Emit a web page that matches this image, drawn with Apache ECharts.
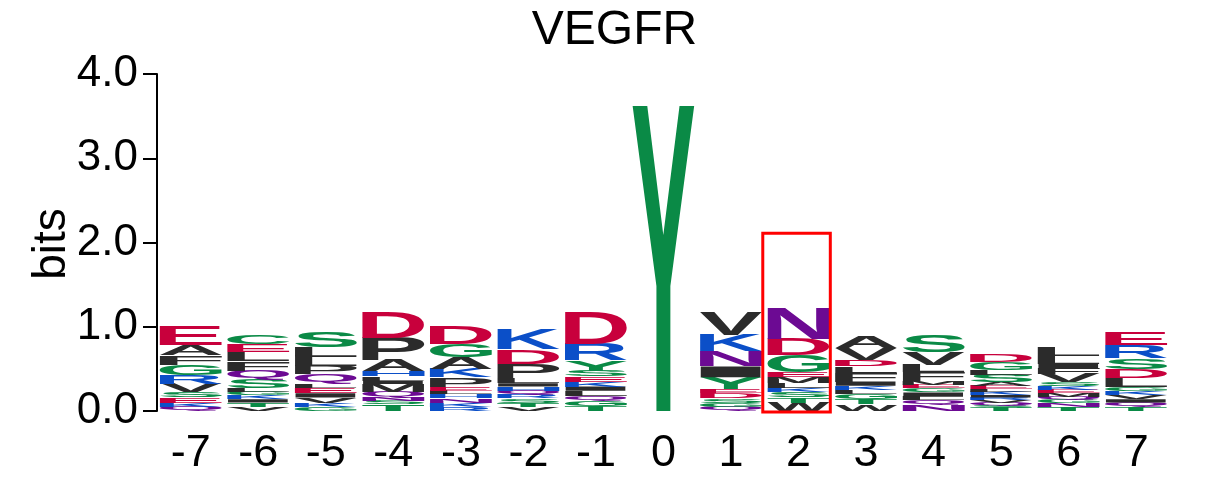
<!DOCTYPE html>
<html><head><meta charset="utf-8">
<script src="https://cdn.jsdelivr.net/npm/echarts@6/dist/echarts.min.js"></script>
<style>html,body{margin:0;padding:0;background:#fff}#c{width:1229px;height:496px}</style>
</head><body><div id="c"></div>
<script>
// ---- data (letter stacks listed top -> bottom, heights in bits) ----
const positions = ['-7','-6','-5','-4','-3','-2','-1','0','1','2','3','4','5','6','7'];
const yTicks = [0, 1, 2, 3, 4];
const col_m7 = [['E',0.23],['A',0.12],['F',0.11],['G',0.12],['R',0.11],['V',0.10],['S',0.06],['E',0.06],['K',0.05],['Q',0.05]];
const col_m6 = [['C',0.11],['E',0.09],['L',0.11],['F',0.11],['Q',0.11],['S',0.10],['L',0.04],['G',0.04],['K',0.05],['I',0.04],['T',0.05],['V',0.05]];
const col_m5 = [['S',0.19],['L',0.12],['L',0.10],['P',0.10],['Q',0.12],['L',0.05],['E',0.06],['I',0.05],['V',0.06],['K',0.05],['G',0.05]];
const col_m4 = [['D',0.30],['P',0.27],['A',0.13],['H',0.06],['L',0.05],['I',0.04],['M',0.09],['Q',0.07],['N',0.04],['S',0.04],['T',0.08]];
const col_m3 = [['D',0.21],['G',0.16],['A',0.14],['K',0.10],['P',0.11],['E',0.05],['L',0.04],['H',0.05],['N',0.05],['K',0.05],['R',0.05]];
const col_m2 = [['K',0.24],['D',0.17],['P',0.17],['L',0.06],['I',0.04],['H',0.05],['Q',0.05],['R',0.04],['S',0.05],['T',0.05],['V',0.05]];
const col_m1 = [['D',0.38],['R',0.19],['Y',0.12],['S',0.07],['E',0.06],['K',0.06],['I',0.05],['L',0.06],['Q',0.06],['G',0.06],['T',0.06]];
const col_0  = [['Y',3.63]];
const col_p1 = [['V',0.27],['K',0.19],['N',0.18],['I',0.13],['Y',0.14],['E',0.05],['D',0.06],['S',0.05],['G',0.05],['Q',0.05]];
const col_p2 = [['N',0.36],['D',0.19],['G',0.20],['E',0.06],['M',0.07],['L',0.06],['K',0.05],['S',0.06],['T',0.06],['W',0.10]];
const col_p3 = [['A',0.13],['V',0.14],['D',0.08],['L',0.08],['F',0.10],['I',0.05],['K',0.05],['L',0.05],['G',0.06],['T',0.06],['W',0.08]];
const col_p4 = [['S',0.20],['V',0.15],['L',0.09],['F',0.10],['M',0.05],['E',0.04],['G',0.05],['I',0.05],['L',0.04],['Q',0.06],['N',0.07]];
const col_p5 = [['D',0.09],['G',0.09],['L',0.06],['S',0.09],['A',0.04],['E',0.04],['L',0.03],['K',0.04],['I',0.03],['R',0.03],['V',0.03],['Q',0.03],['S',0.03],['T',0.04]];
const col_p6 = [['L',0.11],['L',0.09],['I',0.05],['F',0.07],['V',0.10],['S',0.04],['K',0.05],['E',0.04],['M',0.04],['Q',0.04],['G',0.04],['N',0.04],['T',0.05]];
const col_p7 = [['E',0.15],['R',0.15],['S',0.13],['D',0.11],['L',0.10],['G',0.05],['K',0.05],['V',0.05],['I',0.04],['Q',0.05],['T',0.05]];
const stacks = [col_m7,col_m6,col_m5,col_m4,col_m3,col_m2,col_m1,col_0,col_p1,col_p2,col_p3,col_p4,col_p5,col_p6,col_p7];
const highlightPosition = '2';
const highlightTopBits = 2.11;

// ---- styles ----
const groupColors = {acidic:'#C8003C', basic:'#0B4FC8', amide:'#6C0A93', polar:'#0A8A46', hydrophobic:'#2B2B2B'};
const groupOf = L => 'DE'.includes(L) ? 'acidic' : 'KRH'.includes(L) ? 'basic' : 'NQ'.includes(L) ? 'amide' : 'GSTYC'.includes(L) ? 'polar' : 'hydrophobic';
const ALPHABET = 'ACDEFGHIKLMNPQRSTVWY';
const LETTER_FONT = 'bold 200px "Liberation Sans"';
const LETTER_HALF = 0.46;

// glyph ink metrics (canvas textBaseline 'middle', as zrender draws)
const ctx = document.createElement('canvas').getContext('2d');
ctx.font = LETTER_FONT; ctx.textBaseline = 'middle'; ctx.textAlign = 'left';
const metrics = {};
for (const L of ALPHABET) {
  const m = ctx.measureText(L);
  metrics[L] = {l: m.actualBoundingBoxLeft, r: m.actualBoundingBoxRight, a: m.actualBoundingBoxAscent, d: m.actualBoundingBoxDescent};
}

// build stacked letter records: [posIndex, y0, y1, letterIndex]
const letterData = [];
stacks.forEach((stack, i) => {
  let y = 0;
  stack.slice().reverse().forEach(([L, h]) => {
    letterData.push([i, y, y + h, ALPHABET.indexOf(L)]);
    y += h;
  });
});

const chart = echarts.init(document.getElementById('c'), null, {renderer: 'canvas'});
chart.setOption({
  animation: false,
  backgroundColor: '#fff',
  title: {text: 'VEGFR', left: 'center', top: 2,
    textStyle: {fontFamily: 'Liberation Sans', fontSize: 48, fontWeight: 'normal', color: '#000'}},
  graphic: [{type: 'text', x: 52, y: 244, rotation: Math.PI / 2,
    style: {text: 'bits', font: '46px "Liberation Sans"', fill: '#000', align: 'center', verticalAlign: 'middle'}}],
  grid: {left: 157, right: 59, top: 74, bottom: 85},
  xAxis: {type: 'category', data: positions, boundaryGap: true,
    axisLine: {show: false}, axisTick: {show: false}, splitLine: {show: false},
    axisLabel: {fontFamily: 'Liberation Sans', fontSize: 45, color: '#000', margin: 20}},
  yAxis: {type: 'value', min: 0, max: 4, interval: 1,
    axisLine: {show: true, lineStyle: {color: '#000', width: 2}},
    axisTick: {show: true, length: 14, lineStyle: {color: '#000', width: 2}},
    splitLine: {show: false},
    axisLabel: {fontFamily: 'Liberation Sans', fontSize: 44, color: '#000', margin: 19,
      formatter: v => yTicks.includes(v) ? v.toFixed(1) : ''}},
  series: [{
    type: 'custom', clip: false, data: letterData,
    renderItem: (params, api) => {
      const xi = api.value(0), y0 = api.value(1), y1 = api.value(2);
      const L = ALPHABET[api.value(3)];
      const c = api.coord([xi, y0]);
      const top = api.coord([xi, y1])[1];
      const bw = api.size([1, 0])[0];
      const w = bw * LETTER_HALF * 2, h = c[1] - top;
      const m = metrics[L];
      const sx = w / (m.l + m.r), sy = h / (m.a + m.d);
      const left = c[0] - w / 2;
      return {type: 'text', x: left + m.l * sx, y: top + m.a * sy, scaleX: sx, scaleY: sy,
        style: {text: L, x: 0, y: 0, font: LETTER_FONT, align: 'left', verticalAlign: 'middle',
          fill: groupColors[groupOf(L)]}};
    }
  }, {
    type: 'custom', clip: false, data: [[positions.indexOf(highlightPosition), highlightTopBits]],
    renderItem: (params, api) => {
      const xi = api.value(0);
      const c = api.coord([xi, 0]);
      const t = api.coord([xi, api.value(1)])[1];
      const bw = api.size([1, 0])[0];
      return {type: 'rect', shape: {x: c[0] - 0.53 * bw, y: t, width: 1.0 * bw, height: c[1] + 1 - t},
        style: {fill: 'none', stroke: '#FF0000', lineWidth: 3}};
    }
  }]
});
</script></body></html>
